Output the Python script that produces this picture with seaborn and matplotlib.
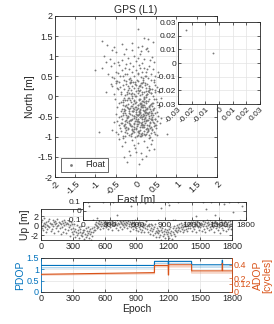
import matplotlib
matplotlib.use("Agg")
import matplotlib.pyplot as plt
import seaborn as sns
import pandas as pd

# ---- horizontal position scatter (East / North, m) ----
east = [
    0.04, -0.84, 0.2, 0.3, -0.35, 0.15, -0.55, 0.42, -0.1, 0.28, -0.72, 0.05,
    -0.8, -0.65, -0.5, -0.45, -0.3, -0.2, -0.1, 0.0, 0.1, 0.2, 0.3, 0.4, -0.6, -0.35, 0.15, -0.05, 0.25, -0.75, 0.45, -0.25, 0.05, -0.55, 0.35, -0.15, 0.12,
    -1.01, -0.85, -0.7, -0.62, -0.55, -0.5, -0.42, -0.4, -0.35, -0.3, -0.28, -0.22, -0.18, -0.15, -0.1, -0.08, -0.05, 0.0, 0.03, 0.06,
    0.1, 0.12, 0.15, 0.18, 0.2, 0.22, 0.25, 0.3, 0.33, 0.38, 0.42, 0.48, 0.55, -0.6, -0.45, -0.25, 0.08, 0.28, -0.12, 0.45,
    -0.75, -0.62, -0.55, -0.48, -0.42, -0.38, -0.33, -0.3, -0.27, -0.24, -0.2, -0.18, -0.15, -0.12, -0.1, -0.08, -0.06, -0.04, -0.02, 0.01,
    0.04, 0.06, 0.08, 0.1, 0.12, 0.14, 0.16, 0.18, 0.2, 0.22, 0.24, 0.26, 0.28, 0.3, 0.33, 0.36, 0.4, 0.44, 0.48, 0.52,
    0.58, 0.65, -0.5, -0.22, 0.0, 0.15, 0.32, 0.05, -0.14, 0.27,
    -0.52, -0.38, -0.27, -0.19, -0.11, -0.05, 0.07, 0.13, 0.21, 0.29, 0.36, 0.44, 0.53, 0.61, -0.33, -0.02, 0.17, 0.25, 0.39, -0.15,
    -0.47, -0.35, -0.24, -0.16, -0.08, 0.0, 0.06, 0.11, 0.18, 0.23, 0.31, 0.37, 0.45, 0.52, -0.29, -0.12, 0.03, 0.14, 0.27, 0.41, 0.58, -0.2, 0.09, 0.34,
    -0.5, -0.41, -0.32, -0.25, -0.17, -0.1, -0.04, 0.02, 0.08, 0.15, 0.2, 0.26, 0.33, 0.39, 0.46, 0.55, 0.63, -0.28, -0.13, 0.05, 0.12, 0.3, 0.42, -0.21, 0.17, 0.36,
    -0.55, -0.43, -0.34, -0.26, -0.18, -0.11, -0.05, 0.01, 0.07, 0.13, 0.19, 0.24, 0.31, 0.38, 0.44, 0.5, 0.6, -0.3, -0.15, 0.04, 0.1, 0.22, 0.35, 0.47, -0.22, 0.16,
    -0.58, -0.45, -0.36, -0.27, -0.19, -0.12, -0.06, 0.02, 0.09, 0.16, 0.23, 0.3, 0.37, 0.45, 0.53, -0.31, -0.08, 0.12, 0.27, 0.4, -0.22, 0.05,
    -0.42, -0.35, -0.26, -0.18, -0.1, -0.03, 0.05, 0.12, 0.2, 0.28, 0.36, 0.45, -0.3, -0.14, 0.0, 0.15, 0.31, -0.22, 0.08, 0.25, -0.06, 0.4, 0.77, -0.91,
    -0.44, -0.36, -0.29, -0.23, -0.17, -0.09, -0.04, 0.04, 0.09, 0.15, 0.19, 0.24, 0.28, 0.34, 0.41, 0.47, -0.31, -0.13, 0.07, 0.21, 0.38, -0.2, 0.11, 0.31, 0.5,
    -0.41, -0.33, -0.26, -0.21, -0.14, -0.07, -0.01, 0.05, 0.1, 0.16, 0.2, 0.25, 0.29, 0.35, 0.4, 0.48, 0.56, -0.37, -0.18, 0.02, 0.13, 0.22, 0.32, 0.43, -0.1, 0.08, 0.27, 0.18,
    -0.46, -0.38, -0.3, -0.23, -0.16, -0.09, -0.03, 0.03, 0.1, 0.14, 0.21, 0.25, 0.32, 0.36, 0.43, 0.49, -0.34, -0.19, -0.06, 0.07, 0.18, 0.28, 0.4, 0.53, -0.26, 0.0, 0.12, 0.23, 0.34, -0.12,
    -0.49, -0.39, -0.32, -0.24, -0.17, -0.1, -0.02, 0.06, 0.11, 0.18, 0.25, 0.32, 0.39, 0.46, -0.28, -0.13, 0.0, 0.14, 0.21, 0.35, -0.2, 0.08, 0.29,
    -0.12, -0.06, 0.0, 0.04, 0.09, 0.13, 0.17, 0.22, 0.26, 0.3, -0.09, -0.03, 0.06, 0.11, 0.15, 0.2, 0.24, 0.33, -0.15, 0.01, 0.19, 0.28, 0.07, -0.05, 0.12,
    -0.58, -0.47, -0.39, -0.31, -0.24, -0.16, -0.09, -0.02, 0.05, 0.11, 0.17, 0.23, 0.31, 0.38, 0.46, -0.27, -0.12, 0.09, 0.26, -0.5,
    -0.27, -0.21, -0.14, -0.08, -0.01, 0.04, 0.1, 0.16, 0.22, 0.27, 0.33, 0.4, -0.24, -0.11, 0.02, 0.13, 0.19, 0.31, 0.44, -0.17, -0.05, 0.07, 0.24, 0.37, -0.3, 0.15, 0.28, -0.09, 0.05, 0.21,
    -0.33, -0.19, -0.06, 0.08, 0.17, 0.26, 0.35, 0.42, -0.25, -0.13, 0.0, 0.12, 0.23, 0.3, 0.39, -0.36, -0.2, -0.07, 0.06, 0.2, 0.32, 0.47, -0.15, 0.1, 0.26, -0.28, 0.14, 0.36, 0.03, -0.04,
    -0.024, -0.004,
]
north = [
    1.68, 1.39, 1.45, 1.42, 1.3, 1.25, 1.22, 1.35, 1.32, 1.21, 1.28, 1.22,
    1.0, 0.92, 1.1, 0.85, 1.05, 0.95, 1.15, 0.88, 1.05, 0.92, 1.12, 0.98, 1.15, 0.9, 0.82, 1.0, 1.18, 0.85, 0.85, 1.18, 0.95, 0.82, 0.9, 0.84, 1.12,
    0.66, 0.7, 0.55, 0.75, 0.45, 0.62, 0.78, 0.5, 0.65, 0.42, 0.72, 0.55, 0.68, 0.45, 0.6, 0.75, 0.5, 0.65, 0.42, 0.55,
    0.72, 0.48, 0.62, 0.4, 0.7, 0.52, 0.6, 0.45, 0.75, 0.55, 0.68, 0.5, 0.62, 0.48, 0.58, 0.8, 0.78, 0.68, 0.4, 0.42,
    0.12, 0.3, 0.05, 0.22, 0.35, 0.1, 0.28, 0.18, 0.04, 0.38, 0.25, 0.08, 0.33, 0.15, 0.02, 0.36, 0.2, 0.07, 0.31, 0.14,
    0.39, 0.09, 0.26, 0.17, 0.34, 0.06, 0.23, 0.37, 0.11, 0.29, 0.03, 0.21, 0.32, 0.13, 0.27, 0.08, 0.19, 0.35, 0.16, 0.24,
    0.1, 0.2, 0.38, 0.05, 0.29, 0.33, 0.12, 0.22, 0.36, 0.07,
    -0.05, -0.14, -0.09, -0.18, -0.03, -0.12, -0.07, -0.16, -0.02, -0.11, -0.19, -0.06, -0.13, -0.04, -0.2, -0.17, -0.1, -0.01, -0.15, -0.08,
    -0.25, -0.31, -0.22, -0.37, -0.28, -0.34, -0.21, -0.39, -0.26, -0.33, -0.23, -0.36, -0.29, -0.38, -0.35, -0.24, -0.3, -0.27, -0.4, -0.32, -0.26, -0.29, -0.34, -0.22,
    -0.44, -0.52, -0.47, -0.58, -0.42, -0.55, -0.49, -0.6, -0.43, -0.51, -0.57, -0.45, -0.53, -0.41, -0.56, -0.48, -0.54, -0.41, -0.59, -0.46, -0.52, -0.58, -0.45, -0.5, -0.44, -0.55,
    -0.63, -0.71, -0.66, -0.78, -0.62, -0.74, -0.68, -0.79, -0.64, -0.72, -0.77, -0.61, -0.7, -0.75, -0.65, -0.79, -0.67, -0.73, -0.69, -0.62, -0.76, -0.66, -0.78, -0.72, -0.64, -0.7,
    -0.83, -0.92, -0.86, -0.97, -0.81, -0.94, -0.88, -0.99, -0.84, -0.91, -0.96, -0.82, -0.9, -0.87, -0.95, -0.98, -0.85, -0.93, -0.89, -0.84, -0.91, -0.96,
    -1.05, -1.22, -1.12, -1.35, -1.08, -1.28, -1.15, -1.4, -1.1, -1.25, -1.18, -1.3, -1.5, -1.45, -1.38, -1.55, -1.32, -1.62, -1.68, -1.48, -1.2, -1.08, -0.93, -0.88,
    0.18, 0.07, -0.04, 0.12, 0.2, 0.09, -0.08, 0.16, 0.03, 0.11, -0.06, 0.14, 0.06, 0.19, 0.02, 0.1, -0.09, 0.05, 0.13, -0.03, 0.08, 0.17, -0.07, 0.15, -0.05,
    -0.17, -0.42, -0.33, -0.27, -0.44, -0.19, -0.38, -0.29, -0.41, -0.22, -0.35, -0.16, -0.43, -0.3, -0.24, -0.4, -0.21, -0.36, -0.31, -0.45, -0.18, -0.39, -0.26, -0.34, -0.23, -0.37, -0.28, -0.2,
    -0.6, -0.48, -0.71, -0.53, -0.66, -0.47, -0.62, -0.73, -0.5, -0.68, -0.46, -0.59, -0.74, -0.55, -0.63, -0.7, -0.57, -0.52, -0.75, -0.64, -0.49, -0.72, -0.58, -0.61, -0.69, -0.56, -0.67, -0.54, -0.65, -0.73,
    -0.89, -0.78, -1.02, -0.84, -0.95, -0.8, -1.0, -0.86, -0.97, -0.77, -0.92, -1.04, -0.81, -0.93, -0.87, -0.99, -0.82, -0.95, -0.85, -1.01, -0.79, -0.91, -0.83,
    -0.13, -0.48, -0.27, -0.57, -0.19, -0.45, -0.33, -0.51, -0.12, -0.42, -0.36, -0.25, -0.47, -0.3, -0.55, -0.22, -0.39, -0.49, -0.58, -0.14, -0.6, -0.31, -0.38, -0.53, -0.23,
    0.27, 0.39, 0.23, 0.52, 0.31, 0.44, 0.25, 0.37, 0.58, 0.29, 0.47, 0.33, 0.22, 0.41, 0.28, 0.57, 0.35, 0.26, 0.5, 0.34,
    -0.62, -0.08, -0.71, -0.35, -0.52, -0.88, -0.15, -0.64, -0.41, -0.79, -0.06, -0.57, -0.46, -0.83, -0.68, -0.26, -0.92, -0.38, -0.74, -0.03, -0.66, -0.86, -0.11, -0.45, -0.32, -0.77, -0.59, -0.9, -0.2, -0.72,
    -0.14, -0.49, -0.81, -0.09, -0.7, -0.31, -0.63, -0.16, -0.76, -0.59, -0.44, -0.97, -0.27, -0.85, -0.51, -0.66, -0.04, -0.37, -0.69, -0.13, -0.95, -0.57, -0.29, -0.5, -0.82, -0.23, -0.1, -0.4, -0.62, -0.3,
    0.024, 0.007,
]

# ---- Up component (m), one sample every 5 epochs ----
up_values = [
    0.8, -0.4, 1.3, 0.2, -0.9, 0.6, 1.7, -0.2, 0.4, -1.3, 0.9, 0.1, -0.6, 1.1, 0.05, -0.3, 1.5, 0.7, -1.0, 0.3,
    0.5, -0.7, 1.2, -0.1, 0.8, -1.5, 0.3, 1.0, -0.5, 0.6, -0.08, 1.4, -1.1, 0.2, 0.9, -0.4, 0.7, -1.8, 0.4, 1.1,
    -0.2, 0.6, -1.2, 1.3, 0.1, -0.6, 0.9, -1.6, 0.3, 0.7, -0.9, 0.5, -0.3, 1.0, -2.1, 0.2, 0.8, -0.7, 0.4, -1.3,
    -0.5, -1.8, 0.3, -1.1, -2.4, -0.6, -1.4, 0.1, -2.0, -0.9, -1.6, -0.3, -2.6, -1.2, -0.7, -1.9, -0.04, -1.5, -2.2, -0.8,
    -1.3, -2.8, -0.9, -1.7, -0.5, -2.3, -1.1, -1.9, -0.2, -1.5, -2.5, -1.0, -0.6, -1.8, -3.1, -1.2, -0.4, -2.1, -1.4, -0.8,
    -0.3, 0.4, -0.9, 0.2, 0.8, -0.5, 0.06, 0.6, -0.2, 1.0, 0.3, -0.7, 0.5, 0.9, -0.1, 0.4, 1.2, -0.4, 0.7, 0.2,
    0.6, 1.1, -0.3, 0.4, 0.9, 0.1, -0.6, 0.7, 1.3, 0.3, -0.2, 0.8, 0.5, 1.0, -0.8, 0.2, 0.6, 1.4, 0.09, 0.4,
    0.9, -0.4, 0.5, 1.2, 0.2, -0.9, 0.7, 0.3, 1.1, -0.2, 0.6, 0.8, -0.6, 0.4, 1.0, 0.1, -0.3, 0.7, 1.3, 0.5,
    0.2, 0.8, -0.5, 0.6, 1.1, -0.1, 0.4, -1.0, 0.9, 0.3, -0.3, 0.7, 1.2, 0.03, -0.7, 0.5, 0.8, -0.2, 0.4, -0.9,
    -0.4, 0.3, -1.1, 0.6, -0.2, 0.9, -0.7, 0.1, -1.4, 0.5, 0.07, -0.8, 0.7, -0.3, 0.2, -1.2, 0.4, -0.5, 1.0, -0.1,
    -0.6, 0.2, -1.3, -0.1, 0.5, -0.9, -1.7, 0.3, -0.4, -1.1, 0.1, -2.0, -0.7, -0.2, -1.5, 0.4, -1.0, -2.3, -0.5, -1.3,
    -1.6, -0.8, -2.4, -1.1, -0.3, -1.9, -2.9, -0.9, -1.4, -0.5, -2.2, -1.7, -1.0, -2.6, -0.6, -1.3, -3.2, -1.8, -0.8, -2.1,
    -1.2, -2.5, -0.7, -1.6, -0.2, -1.9, -1.0, -2.8, -0.4, -1.3, -0.06, -1.7, -0.8, -2.2, -0.5, -1.1, 0.2, -1.4, -0.3, -0.9,
    -0.5, 0.3, -1.0, -0.2, 0.6, -0.7, 0.1, -1.3, -0.3, 0.5, -0.8, 0.02, 0.8, -0.6, -0.1, 0.4, -1.1, 0.2, -0.4, 0.7,
    0.4, -0.5, 0.9, 0.1, -1.0, 0.6, -0.2, 1.2, 0.3, -0.7, 0.8, -0.04, 0.5, -1.3, 0.2, 1.0, -0.3, 0.6, -0.8, 0.4,
    -0.3, 0.7, 0.2, -1.1, 0.5, -0.1, 1.1, -0.6, 0.3, 0.8, -1.4, 0.08, 0.6, -0.4, 0.9, 0.2, -0.9, 0.4, 1.3, -0.2,
    0.5, -0.7, 0.1, 0.9, -0.3, 0.6, -1.2, 0.2, 1.0, -0.5, 0.4, -0.01, 0.7, -0.9, 0.3, 1.2, -0.2, 0.5, -1.5, 0.8,
    0.2, -0.4, 0.9, 0.1, -0.8, 0.6, -0.1, 1.1, 0.3, -1.1, 0.5, 0.05, -0.6, 0.8, 0.2, -0.3, 1.0, 0.4, -0.7, 0.3,
]
up_epochs = list(range(0, 1800, 5))

# ---- DOP values (step changes) ----
dop_epochs = [0, 1069, 1070, 1199, 1200, 1203, 1204, 1419, 1420, 1707, 1708, 1711, 1712, 1800]
pdop = [1.17, 1.17, 1.35, 1.35, 1.2, 1.2, 1.35, 1.35, 1.2, 1.2, 1.4, 1.4, 1.2, 1.2]
pdop_faint = [1.07, 1.07, 1.26, 1.26, 1.26, 1.26, 1.26, 1.26, 1.1, 1.1, 1.1, 1.1, 1.1, 1.1]
adop = [0.26, 0.285, 0.39, 0.39, 0.25, 0.25, 0.4, 0.4, 0.31, 0.31, 0.42, 0.42, 0.31, 0.31]
adop_faint = [0.25, 0.27, 0.37, 0.37, 0.37, 0.37, 0.37, 0.37, 0.28, 0.28, 0.28, 0.28, 0.28, 0.28]

main_ticks = [-2, -1.5, -1, -0.5, 0, 0.5, 1, 1.5, 2]
main_labels = ["-2", "-1.5", "-1", "-0.5", "0", "0.5", "1", "1.5", "2"]
zoom_ticks = [-0.03, -0.02, -0.01, 0, 0.01, 0.02, 0.03]
zoom_labels = ["-0.03", "-0.02", "-0.01", "0", "0.01", "0.02", "0.03"]
epoch_ticks = [0, 300, 600, 900, 1200, 1500, 1800]
epoch_labels = ["0", "300", "600", "900", "1200", "1500", "1800"]

assert len(east) == len(north)
assert len(up_values) == len(up_epochs)

sns.set_style("ticks")
plt.rcParams["font.family"] = ["Liberation Sans", "DejaVu Sans"]
plt.rcParams["axes.unicode_minus"] = False
plt.rcParams["xtick.direction"] = "in"
plt.rcParams["ytick.direction"] = "in"
plt.rcParams["xtick.major.size"] = 2
plt.rcParams["ytick.major.size"] = 2

GRAY = "#7a7a7a"
EDGE = "#262626"
GRID = "#e3e3e3"
BLUE = "#0072bd"
ORANGE = "#d95319"
FS = 6.5
DOT = 1.8

df_en = pd.DataFrame({"East": east, "North": north})
df_up = pd.DataFrame({"Epoch": up_epochs, "Up": up_values})
df_dop = pd.DataFrame({"Epoch": dop_epochs, "PDOP": pdop, "PDOPf": pdop_faint,
                       "ADOP": adop, "ADOPf": adop_faint})

fig = plt.figure(figsize=(2.74, 3.24), dpi=100)


def style(ax, fs=FS):
    for s in ax.spines.values():
        s.set_color(EDGE)
        s.set_linewidth(0.6)
    ax.tick_params(labelsize=fs, colors=EDGE, width=0.5, top=True, right=True, pad=1.5)
    ax.grid(True, color=GRID, linewidth=0.5)
    ax.set_axisbelow(True)


# main scatter
ax = fig.add_axes([0.2007, 0.4537, 0.591, 0.497])
sns.scatterplot(data=df_en, x="East", y="North", ax=ax, s=DOT, color=GRAY,
                linewidth=0, label="Float")
ax.set_xlim(-2, 2)
ax.set_ylim(-2, 2)
ax.set_xticks(main_ticks)
ax.set_xticklabels(main_labels, rotation=45, ha="right", rotation_mode="anchor")
ax.set_yticks(main_ticks)
ax.set_yticklabels(main_labels)
style(ax)
ax.set_xlabel("East [m]", fontsize=7.5, labelpad=-1)
ax.set_ylabel("North [m]", fontsize=7.5, labelpad=2)
ax.set_title("GPS (L1)", fontsize=7.5, pad=2)
leg = ax.legend(loc="lower left", bbox_to_anchor=(0.035, 0.03), borderaxespad=0,
                fontsize=6.5, frameon=True, fancybox=False, markerscale=1.5,
                handletextpad=0.6, borderpad=0.3, handlelength=1.8)
leg.get_frame().set_edgecolor(EDGE)
leg.get_frame().set_linewidth(0.6)

# main inset
axi = fig.add_axes([0.6496, 0.679, 0.299, 0.253])
sns.scatterplot(data=df_en, x="East", y="North", ax=axi, s=DOT, color=GRAY,
                linewidth=0, legend=False)
axi.set_xlim(-0.03, 0.03)
axi.set_ylim(-0.03, 0.03)
axi.set_xticks(zoom_ticks)
axi.set_xticklabels(zoom_labels, rotation=45, ha="right", rotation_mode="anchor")
axi.set_yticks(zoom_ticks)
axi.set_yticklabels(zoom_labels)
axi.set_xlabel("")
axi.set_ylabel("")
style(axi, fs=6)

# Up time series
axu = fig.add_axes([0.1496, 0.2593, 0.697, 0.0957])
sns.scatterplot(data=df_up, x="Epoch", y="Up", ax=axu, s=DOT, color=GRAY,
                linewidth=0, legend=False)
axu.set_xlim(0, 1800)
axu.set_ylim(-3, 3.6)
axu.set_xticks(epoch_ticks)
axu.set_xticklabels(epoch_labels)
axu.set_yticks([-2, 0, 2])
axu.set_yticklabels(["-2", "0", "2"])
axu.set_xlabel("")
axu.set_ylabel("Up [m]", fontsize=7.5, labelpad=1)
style(axu)

# Up inset
axui = fig.add_axes([0.3029, 0.321, 0.595, 0.0556])
sns.scatterplot(data=df_up, x="Epoch", y="Up", ax=axui, s=DOT, color=GRAY,
                linewidth=0, legend=False)
axui.set_xlim(0, 1800)
axui.set_ylim(-0.1, 0.1)
axui.set_xticks(epoch_ticks)
axui.set_xticklabels(epoch_labels)
axui.set_yticks([-0.1, 0, 0.1])
axui.set_yticklabels(["-0.1", "0", "0.1"])
axui.set_xlabel("")
axui.set_ylabel("")
style(axui, fs=6)

# DOP
axd = fig.add_axes([0.1496, 0.0988, 0.697, 0.105])
sns.lineplot(data=df_dop, x="Epoch", y="PDOPf", ax=axd, color=BLUE, alpha=0.3,
             linewidth=1.0, estimator=None, sort=False)
sns.lineplot(data=df_dop, x="Epoch", y="PDOP", ax=axd, color=BLUE,
             linewidth=0.8, estimator=None, sort=False)
axd.set_xlim(0, 1800)
axd.set_ylim(0, 1.5)
axd.set_xticks(epoch_ticks)
axd.set_xticklabels(epoch_labels)
axd.set_yticks([0, 0.5, 1, 1.5])
axd.set_yticklabels(["0", "0.5", "1", "1.5"])
style(axd)
axd.tick_params(axis="y", colors=BLUE, right=False)
axd.spines["left"].set_color(BLUE)
axd.set_xlabel("Epoch", fontsize=7.5, labelpad=1)
axd.set_ylabel("PDOP", fontsize=7.5, color=BLUE, labelpad=1)

axa = axd.twinx()
sns.lineplot(data=df_dop, x="Epoch", y="ADOPf", ax=axa, color=ORANGE, alpha=0.3,
             linewidth=1.0, estimator=None, sort=False)
sns.lineplot(data=df_dop, x="Epoch", y="ADOP", ax=axa, color=ORANGE,
             linewidth=0.8, estimator=None, sort=False)
axa.set_ylim(0, 0.5)
axa.set_yticks([0, 0.12, 0.2, 0.4])
axa.set_yticklabels(["0", "0.12", "0.2", "0.4"])
axa.tick_params(axis="y", labelsize=FS, colors=ORANGE, width=0.5, pad=1.5)
for s in axa.spines.values():
    s.set_visible(False)
axa.spines["right"].set_visible(True)
axa.spines["right"].set_color(ORANGE)
axa.spines["right"].set_linewidth(0.6)
axa.set_ylabel("ADOP\n[cycles]", fontsize=7.5, color=ORANGE, labelpad=1,
               linespacing=0.9)

fig.savefig("out.png", dpi=100)
